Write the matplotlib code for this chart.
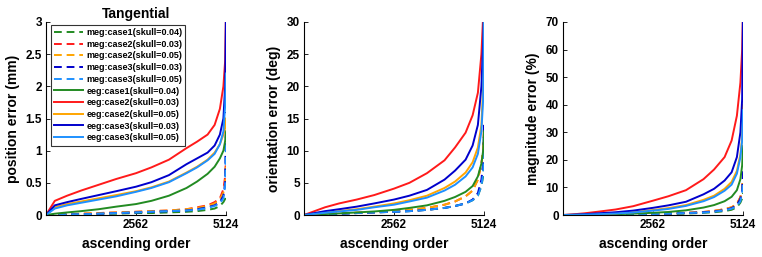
import matplotlib.pyplot as plt
import numpy as np

plt.rcParams['font.family'] = ['Liberation Sans', 'DejaVu Sans']
plt.rcParams['font.weight'] = 'bold'

# sample positions along the sorted order (x axis)
order = [0, 250, 600, 1000, 1500, 2000, 2562, 3000, 3500, 4000, 4300, 4600, 4800, 4950, 5050, 5100, 5124]

labels = ['meg:case1(skull=0.04)', 'meg:case2(skull=0.03)', 'meg:case2(skull=0.05)',
          'meg:case3(skull=0.03)', 'meg:case3(skull=0.05)',
          'eeg:case1(skull=0.04)', 'eeg:case2(skull=0.03)', 'eeg:case2(skull=0.05)',
          'eeg:case3(skull=0.03)', 'eeg:case3(skull=0.05)']
colors = ['#228b22', '#ff1a1a', '#ffa500', '#0000cc', '#1e90ff'] * 2
styles = ['--'] * 5 + ['-'] * 5

# position error (mm)
pos_err = [
    [0, 0.0, 0.01, 0.01, 0.02, 0.02, 0.03, 0.03, 0.04, 0.05, 0.06, 0.08, 0.1, 0.14, 0.2, 0.25, 0.3],
    [0, 0.0, 0.01, 0.02, 0.03, 0.04, 0.05, 0.06, 0.07, 0.09, 0.12, 0.15, 0.2, 0.26, 0.4, 0.6, 0.9],
    [0, 0.0, 0.01, 0.02, 0.03, 0.04, 0.05, 0.06, 0.07, 0.09, 0.11, 0.14, 0.18, 0.24, 0.35, 0.5, 0.8],
    [0, 0.0, 0.01, 0.01, 0.02, 0.03, 0.04, 0.05, 0.06, 0.07, 0.09, 0.12, 0.15, 0.2, 0.3, 0.5, 1.6],
    [0, 0.0, 0.01, 0.01, 0.02, 0.03, 0.04, 0.05, 0.06, 0.07, 0.08, 0.11, 0.14, 0.18, 0.26, 0.45, 1.2],
    [0, 0.02, 0.04, 0.06, 0.09, 0.13, 0.17, 0.22, 0.3, 0.42, 0.52, 0.64, 0.75, 0.88, 1.0, 1.15, 1.3],
    [0, 0.22, 0.3, 0.38, 0.47, 0.56, 0.65, 0.74, 0.86, 1.04, 1.14, 1.25, 1.4, 1.65, 2.0, 2.4, 3.2],
    [0, 0.12, 0.17, 0.21, 0.26, 0.31, 0.37, 0.43, 0.52, 0.66, 0.75, 0.86, 0.97, 1.1, 1.25, 1.35, 1.5],
    [0, 0.15, 0.2, 0.25, 0.31, 0.37, 0.44, 0.51, 0.62, 0.79, 0.88, 0.97, 1.08, 1.25, 1.5, 2.0, 3.2],
    [0, 0.1, 0.15, 0.19, 0.24, 0.29, 0.36, 0.42, 0.51, 0.65, 0.74, 0.85, 0.95, 1.1, 1.3, 1.7, 2.2],
]

# orientation error (deg)
ori_err = [
    [0, 0.05, 0.1, 0.2, 0.3, 0.4, 0.5, 0.6, 0.8, 1.1, 1.4, 1.8, 2.3, 3.0, 4.5, 6.0, 9.0],
    [0, 0.05, 0.15, 0.25, 0.35, 0.45, 0.6, 0.8, 1.1, 1.6, 2.1, 2.9, 3.8, 5.5, 8.0, 10.0, 14.0],
    [0, 0.05, 0.15, 0.25, 0.35, 0.45, 0.6, 0.8, 1.1, 1.6, 2.1, 2.9, 3.8, 5.5, 8.0, 10.0, 13.0],
    [0, 0.05, 0.1, 0.2, 0.3, 0.4, 0.5, 0.6, 0.8, 1.1, 1.4, 1.8, 2.4, 3.4, 5.5, 8.0, 14.0],
    [0, 0.05, 0.1, 0.2, 0.3, 0.4, 0.5, 0.6, 0.8, 1.1, 1.4, 1.8, 2.3, 3.0, 4.5, 6.5, 11.0],
    [0, 0.05, 0.15, 0.25, 0.4, 0.55, 0.8, 1.1, 1.5, 2.2, 2.8, 3.6, 4.5, 6.0, 8.0, 10.0, 13.0],
    [0, 0.5, 1.2, 1.8, 2.4, 3.1, 4.1, 5.0, 6.5, 8.5, 10.5, 12.8, 15.5, 19.0, 25.0, 31.0, 34.0],
    [0, 0.15, 0.4, 0.6, 0.9, 1.3, 1.8, 2.3, 3.0, 4.2, 5.2, 6.6, 8.2, 10.5, 14.0, 20.0, 32.0],
    [0, 0.25, 0.6, 0.9, 1.3, 1.8, 2.4, 3.0, 3.9, 5.5, 6.9, 8.6, 10.8, 14.0, 20.0, 27.0, 33.0],
    [0, 0.15, 0.35, 0.55, 0.8, 1.2, 1.6, 2.1, 2.7, 3.8, 4.7, 6.0, 7.4, 9.5, 13.0, 18.0, 32.0],
]

# magnitude error (%)
mag_err = [
    [0, 0.0, 0.05, 0.1, 0.15, 0.2, 0.3, 0.4, 0.5, 0.8, 1.0, 1.4, 1.9, 2.8, 4.5, 6.0, 8.0],
    [0, 0.0, 0.05, 0.1, 0.2, 0.3, 0.4, 0.6, 0.8, 1.1, 1.5, 2.1, 2.8, 4.0, 6.5, 9.0, 14.0],
    [0, 0.0, 0.05, 0.1, 0.2, 0.3, 0.4, 0.6, 0.8, 1.1, 1.5, 2.1, 2.8, 4.0, 6.5, 9.0, 14.0],
    [0, 0.0, 0.05, 0.1, 0.2, 0.3, 0.4, 0.5, 0.7, 1.0, 1.3, 1.8, 2.5, 3.6, 6.0, 9.0, 16.0],
    [0, 0.0, 0.05, 0.1, 0.15, 0.25, 0.35, 0.5, 0.7, 0.9, 1.2, 1.7, 2.3, 3.2, 5.0, 8.0, 12.0],
    [0, 0.02, 0.08, 0.15, 0.3, 0.5, 0.8, 1.1, 1.7, 2.7, 3.6, 5.0, 6.6, 9.0, 13.0, 18.0, 25.0],
    [0, 0.2, 0.6, 1.2, 2.0, 3.2, 5.2, 6.8, 9.0, 13.0, 16.5, 21.0, 27.0, 36.0, 48.0, 60.0, 75.0],
    [0, 0.05, 0.15, 0.35, 0.6, 1.0, 1.8, 2.5, 3.6, 5.5, 7.0, 9.5, 12.0, 16.0, 22.0, 28.0, 40.0],
    [0, 0.1, 0.3, 0.6, 1.0, 1.6, 2.6, 3.5, 4.8, 7.5, 9.5, 12.5, 15.5, 21.0, 30.0, 42.0, 75.0],
    [0, 0.05, 0.15, 0.3, 0.55, 0.9, 1.6, 2.2, 3.3, 5.0, 6.5, 8.8, 11.0, 15.0, 21.0, 27.0, 38.0],
]

panels = [
    (pos_err, 'position error (mm)', 3, [0, 0.5, 1, 1.5, 2, 2.5, 3], ['0', '0.5', '1', '1.5', '2', '2.5', '3']),
    (ori_err, 'orientation error (deg)', 30, [0, 5, 10, 15, 20, 25, 30], None),
    (mag_err, 'magnitude error (%)', 70, [0, 10, 20, 30, 40, 50, 60, 70], None),
]
lefts = [46, 304, 563]

fig = plt.figure(figsize=(7.62, 2.57), dpi=100)
W, H = 762.0, 257.0
for k, (data, ylab, ymax, yt, ytl) in enumerate(panels):
    ax = fig.add_axes([lefts[k] / W, (257 - 215) / H, 180 / W, 193 / H])
    for i in range(10):
        ax.plot(order, data[i], color=colors[i], linestyle=styles[i], linewidth=1.4,
                dashes=(4, 2.5) if styles[i] == '--' else (None, None), label=labels[i])
    ax.set_xlim(0, 5124)
    ax.set_ylim(0, ymax)
    ax.set_xticks([2562, 5124])
    ax.set_yticks(yt)
    if ytl:
        ax.set_yticklabels(ytl)
    ax.spines['top'].set_visible(False)
    ax.spines['right'].set_visible(False)
    ax.tick_params(direction='in', length=3, width=0.6, labelsize=8.5, pad=3)
    ax.set_xlabel('ascending order', fontsize=10, fontweight='bold', labelpad=4)
    ax.set_ylabel(ylab, fontsize=10, fontweight='bold', labelpad=4)
    for t in ax.get_xticklabels() + ax.get_yticklabels():
        t.set_fontweight('bold')
    if k == 0:
        ax.set_title('Tangential', fontsize=10, fontweight='bold', pad=3)
        leg = ax.legend(loc='upper left', bbox_to_anchor=(0.02, 0.99), fontsize=6.5,
                        handlelength=3.3, handletextpad=0.3, labelspacing=0.3,
                        borderpad=0.35, frameon=True, fancybox=False, borderaxespad=0.1)
        leg.get_frame().set_edgecolor('black')
        leg.get_frame().set_linewidth(0.8)
        for t in leg.get_texts():
            t.set_fontweight('bold')

fig.savefig('out.png', dpi=100)
